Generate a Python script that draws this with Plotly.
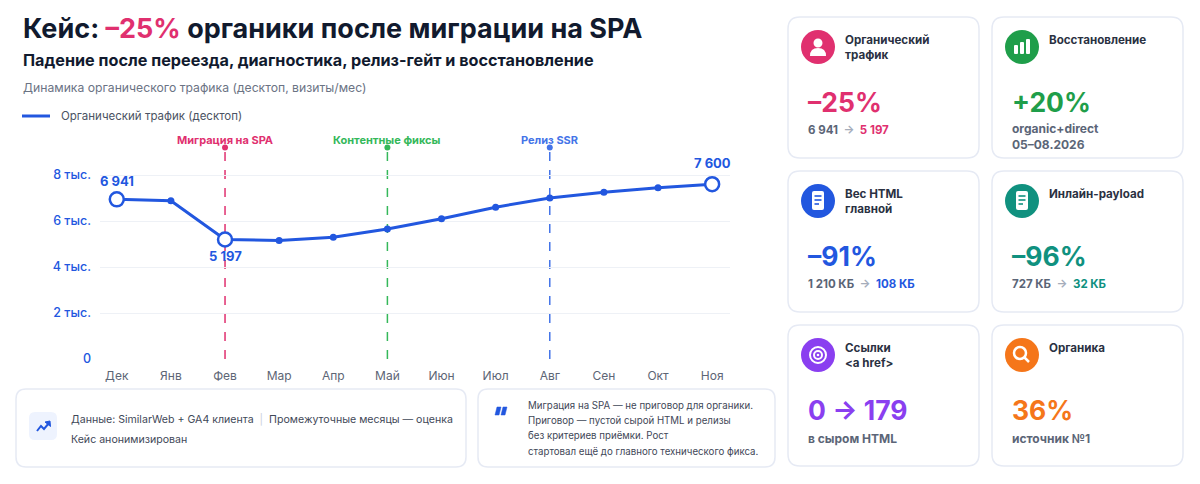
import plotly.graph_objects as go

# --- DATA ---
months = ["Дек", "Янв", "Фев", "Мар", "Апр", "Май", "Июн", "Июл", "Авг", "Сен", "Окт", "Ноя"]
traffic = [6941, 6880, 5197, 5150, 5290, 5650, 6100, 6600, 7000, 7250, 7450, 7600]
highlight_months = ["Дек", "Фев", "Ноя"]
event_months = ["Фев", "Май", "Авг"]
event_labels = ["Миграция на SPA", "Контентные фиксы", "Релиз SSR"]
y_ticks = [0, 2000, 4000, 6000, 8000]
y_tick_labels = ["0", "2 тыс.", "4 тыс.", "6 тыс.", "8 тыс."]
series_name = "Органический трафик (десктоп)"

card_titles = ["Органический<br>трафик", "Восстановление", "Вес HTML<br>главной",
               "Инлайн-payload", "Ссылки<br>&lt;a href&gt;", "Органика"]
card_values = ["–25%", "+20%", "–91%", "–96%", "0 → 179", "36%"]
card_from = ["6 941", "", "1 210 КБ", "727 КБ", "", ""]
card_to = ["5 197", "", "108 КБ", "32 КБ", "", ""]
card_notes = ["", "organic+direct<br>05–08.2026", "", "", "в сыром HTML", "источник №1"]

# --- STYLE ---
W, H = 1200, 484
FONT = "Inter"
DARK = "#111a2e"
GRAY = "#5b6577"
BLUE = "#2257df"
PINK = "#e0306f"
GREEN = "#1f9e4a"
TEAL = "#10917f"
PURPLE = "#8a3ff0"
ORANGE = "#f5761a"
BORDER = "#e6eaf4"
event_colors = [PINK, "#35b85a", "#4474e8"]
card_colors = [PINK, GREEN, BLUE, TEAL, PURPLE, ORANGE]


def px(x):
    return x / W


def py(y):
    return 1 - y / H


def rrect(x0, y0, x1, y1, r):
    pts = (f"M {px(x0 + r)} {py(y0)} L {px(x1 - r)} {py(y0)} Q {px(x1)} {py(y0)} {px(x1)} {py(y0 + r)} "
           f"L {px(x1)} {py(y1 - r)} Q {px(x1)} {py(y1)} {px(x1 - r)} {py(y1)} "
           f"L {px(x0 + r)} {py(y1)} Q {px(x0)} {py(y1)} {px(x0)} {py(y1 - r)} "
           f"L {px(x0)} {py(y0 + r)} Q {px(x0)} {py(y0)} {px(x0 + r)} {py(y0)} Z")
    return pts


def poly(points):
    return "M " + " L ".join(f"{px(x)} {py(y)}" for x, y in points) + " Z"


def fmt(v):
    return f"{v:,}".replace(",", " ")


shapes = []
annotations = []


def box(x0, y0, x1, y1, r=10, fill="white", line=BORDER, width=1.5, layer="below"):
    shapes.append(dict(type="path", xref="paper", yref="paper", path=rrect(x0, y0, x1, y1, r),
                       fillcolor=fill, line=dict(color=line, width=width), layer=layer))


def circle(cx, cy, r, fill=None, line=None, width=0):
    shapes.append(dict(type="circle", xref="paper", yref="paper",
                       x0=px(cx - r), x1=px(cx + r), y0=py(cy + r), y1=py(cy - r),
                       fillcolor=fill or "rgba(0,0,0,0)",
                       line=dict(color=line or "rgba(0,0,0,0)", width=width)))


def text(x, y, s, size=12, color=DARK, anchor="left", bold=False, yanchor="middle"):
    annotations.append(dict(xref="paper", yref="paper", x=px(x), y=py(y), text=f"<b>{s}</b>" if bold else s,
                            showarrow=False, xanchor=anchor, yanchor=yanchor, align="left",
                            font=dict(family=FONT, size=size, color=color)))


fig = go.Figure()

# main line
fig.add_trace(go.Scatter(x=months, y=traffic, mode="lines", name=series_name,
                         line=dict(color=BLUE, width=3), hoverinfo="skip"))
small_x = [m for m in months if m not in highlight_months]
small_y = [traffic[months.index(m)] for m in small_x]
fig.add_trace(go.Scatter(x=small_x, y=small_y, mode="markers", marker=dict(color=BLUE, size=7)))
big_y = [traffic[months.index(m)] for m in highlight_months]
fig.add_trace(go.Scatter(x=highlight_months, y=big_y, mode="markers",
                         marker=dict(color="white", size=14, line=dict(color=BLUE, width=2.5))))

# legend drawn by hand
shapes.append(dict(type="line", xref="paper", yref="paper", x0=px(22), x1=px(50), y0=py(116), y1=py(116),
                   line=dict(color=BLUE, width=3)))
text(59, 116, series_name, size=11.5, color="#4b5363")

# event lines
y_top = 9200
for m, lab, col in zip(event_months, event_labels, event_colors):
    i = months.index(m)
    shapes.append(dict(type="line", xref="x", yref="y", x0=i, x1=i, y0=0, y1=y_top,
                       line=dict(color=col, width=1.5, dash="dash"), layer="below"))
    fig.add_trace(go.Scatter(x=[m], y=[y_top], mode="markers",
                             marker=dict(color=col, size=6), cliponaxis=False))
    annotations.append(dict(xref="x", yref="paper", x=i, y=py(140), text=f"<b>{lab}</b>", showarrow=False,
                            xanchor="center", yanchor="middle", font=dict(family=FONT, size=11, color=col)))

# value labels on key points
for m, shift in zip(highlight_months, [18, -17, 21]):
    v = traffic[months.index(m)]
    annotations.append(dict(xref="x", yref="y", x=m, y=v, text=f"<b>{fmt(v)}</b>", showarrow=False,
                            yshift=shift, font=dict(family=FONT, size=13, color=BLUE)))

# --- header ---
text(21, 29, f"Кейс: <span style='color:{PINK}'>–25%</span> органики после миграции на SPA", size=27, bold=True)
text(21, 60, "Падение после переезда, диагностика, релиз-гейт и восстановление", size=16.2, bold=True)
text(21, 87, "Динамика органического трафика (десктоп, визиты/мес)", size=12.2, color="#6b7384")

# --- bottom notes ---
box(16, 389, 466, 467)
box(29, 412, 57, 440, r=6, fill="#eef3fe", line="#eef3fe", width=0)
shapes.append(dict(type="path", xref="paper", yref="paper",
                   path=f"M {px(37)} {py(431)} L {px(41)} {py(426)} L {px(44)} {py(429)} L {px(49)} {py(423)}",
                   line=dict(color=BLUE, width=2)))
shapes.append(dict(type="path", xref="paper", yref="paper",
                   path=poly([(50, 421), (50.5, 426.5), (45, 422)]), fillcolor=BLUE, line=dict(color=BLUE, width=1)))
text(69, 419, "Данные: SimilarWeb + GA4 клиента&nbsp;&nbsp;<span style='color:#c9cfda'>|</span>&nbsp;&nbsp;"
              "Промежуточные месяцы — оценка", size=10.6, color="#3f4858")
text(69, 439, "Кейс анонимизирован", size=10.6, color="#3f4858")

box(478, 389, 775, 467)
for dx in (0, 6):
    shapes.append(dict(type="path", xref="paper", yref="paper",
                       path=poly([(497 + dx, 407), (501 + dx, 407), (499 + dx, 415), (495 + dx, 415)]),
                       fillcolor=BLUE, line=dict(color=BLUE, width=0.5)))
for yy, line_txt in zip([405, 420, 435, 451], ["Миграция на SPA — не приговор для органики.",
                                               "Приговор — пустой сырой HTML и релизы",
                                               "без критериев приёмки. Рост",
                                               "стартовал ещё до главного технического фикса."]):
    text(526, yy, line_txt, size=9.7, color="#3f4858")

# --- KPI cards ---
col_x = [788, 992]
row_y = [17, 171, 325]
for k in range(6):
    cx0 = col_x[k % 2]
    cy0 = row_y[k // 2]
    col = card_colors[k]
    box(cx0, cy0, cx0 + 191, cy0 + 141, r=12)
    icx, icy = cx0 + 30, cy0 + 30
    circle(icx, icy, 17, fill=col)
    text(cx0 + 55, cy0 + 14, card_titles[k], size=11.6, color="#2a3142", bold=True, yanchor="top")
    text(cx0 + 18, cy0 + 85, card_values[k], size=26.5, color=col, bold=True)
    if card_from[k]:
        text(cx0 + 18, cy0 + 113,
             f"{card_from[k]}  <span style='color:#a5adbb'>→</span>  <span style='color:{col}'>{card_to[k]}</span>",
             size=11.5, color=GRAY, bold=True)
    if card_notes[k]:
        text(cx0 + 18, cy0 + 104 if "<br>" not in card_notes[k] else cy0 + 102, card_notes[k],
             size=12, color=GRAY, bold=True, yanchor="top")

    # icons
    if k == 0:
        circle(icx, icy - 4, 4.5, fill="white")
        shapes.append(dict(type="path", xref="paper", yref="paper",
                           path=f"M {px(icx - 8)} {py(icy + 9)} Q {px(icx - 8)} {py(icy + 1)} {px(icx)} {py(icy + 1)} "
                                f"Q {px(icx + 8)} {py(icy + 1)} {px(icx + 8)} {py(icy + 9)} Z",
                           fillcolor="white", line=dict(color="white", width=0)))
    elif k == 1:
        for bx, top in zip([-8, -2, 4], [-2, -5, -8]):
            box(icx + bx, icy + top, icx + bx + 4, icy + 7, r=1, fill="white", line="white", width=0,
                layer="above")
    elif k in (2, 3):
        box(icx - 6, icy - 10, icx + 6, icy + 9, r=2, fill="white", line="white", width=0, layer="above")
        for ly, lw in zip([-5, -1, 3], [7, 7, 4.5]):
            shapes.append(dict(type="line", xref="paper", yref="paper", x0=px(icx - 3.5), x1=px(icx - 3.5 + lw),
                               y0=py(icy + ly), y1=py(icy + ly), line=dict(color=col, width=1.6)))
    elif k == 4:
        circle(icx, icy, 8, line="white", width=2)
        circle(icx, icy, 4, line="white", width=2)
        circle(icx, icy, 1.3, fill="white")
    elif k == 5:
        circle(icx - 2, icy - 2, 6, line="white", width=2.5)
        shapes.append(dict(type="line", xref="paper", yref="paper", x0=px(icx + 2.5), x1=px(icx + 7),
                           y0=py(icy + 2.5), y1=py(icy + 7), line=dict(color="white", width=2.5)))

fig.update_layout(
    width=W, height=H,
    margin=dict(l=0, r=0, t=0, b=0, autoexpand=False),
    paper_bgcolor="white", plot_bgcolor="white",
    font=dict(family=FONT, size=12, color=GRAY),
    shapes=shapes, annotations=annotations,
    showlegend=False,
    xaxis=dict(domain=[px(100), px(730)], range=[-0.31, 11.33], type="category", automargin=False,
               showgrid=False, zeroline=False, showline=False, ticks="",
               tickfont=dict(family=FONT, size=12, color="#5d6575"), ticklabelstandoff=8, fixedrange=True),
    yaxis=dict(domain=[py(359), py(359 - 23 * 9.2)], range=[0, y_top], automargin=False,
               tickvals=y_ticks, ticktext=y_tick_labels, showgrid=True, gridcolor="#eef1f6", gridwidth=1.2,
               zeroline=False, showline=False, ticks="",
               tickfont=dict(family=FONT, size=12.5, color=BLUE, weight=500), ticklabelstandoff=8,
               fixedrange=True),
)

fig.write_html("out.html", config={"displayModeBar": False},
               post_script="document.body.style.margin='0';document.body.style.overflow='hidden';")
